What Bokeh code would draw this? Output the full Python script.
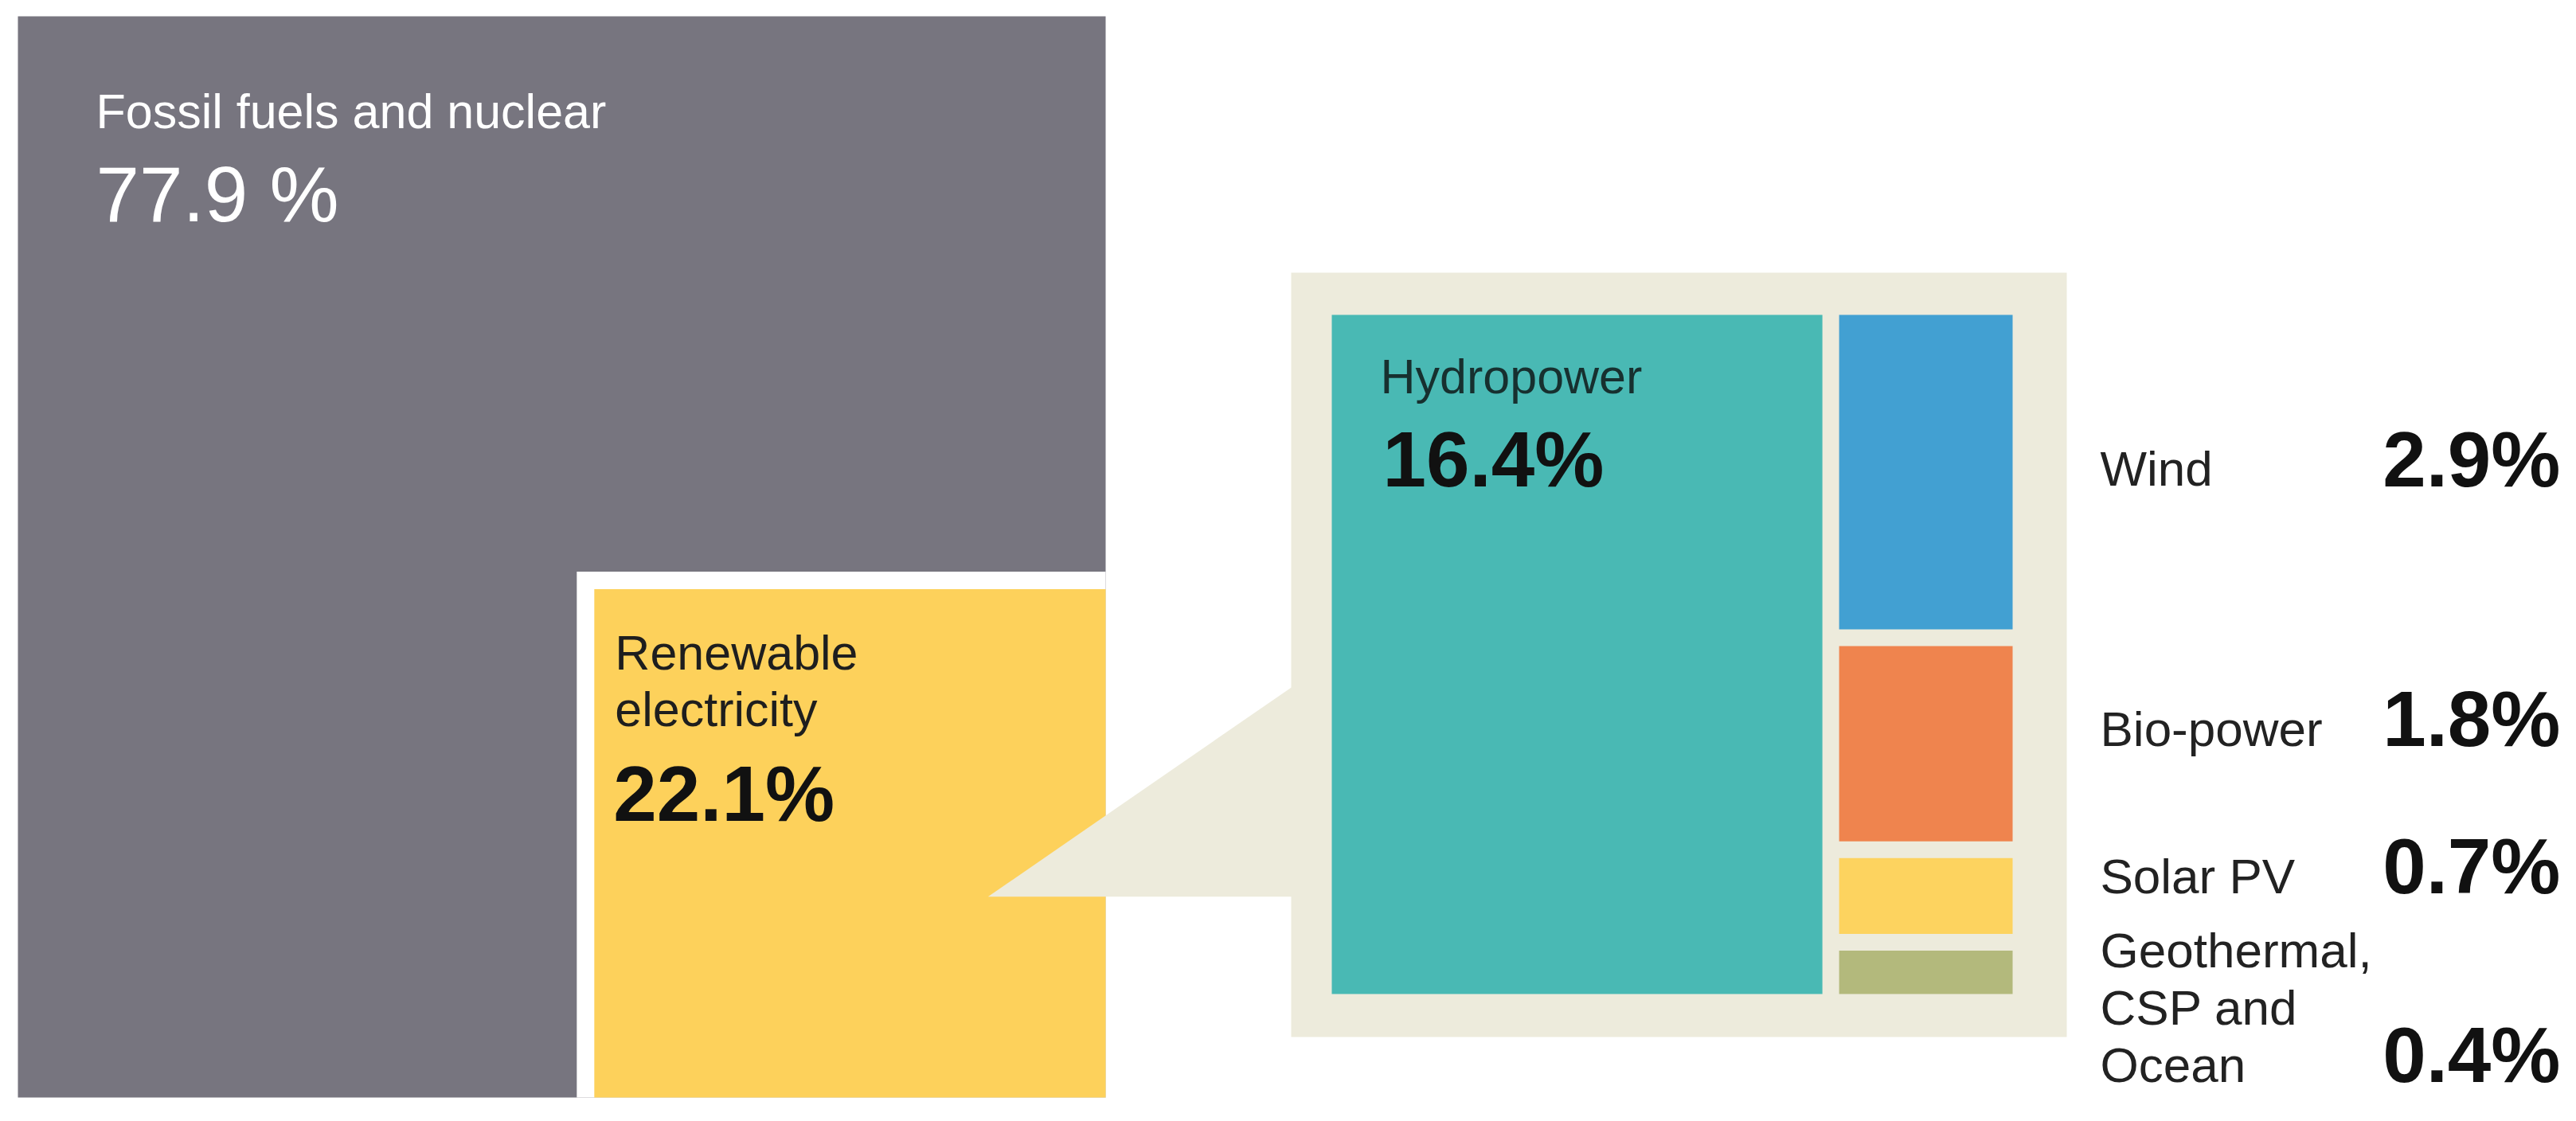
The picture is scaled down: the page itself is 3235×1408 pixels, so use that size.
import math
from bokeh.plotting import figure
from bokeh.models import Range1d, ColumnDataSource
from bokeh.core.properties import value
from bokeh.embed import file_html
from bokeh.resources import INLINE

# ---------------- data ----------------
top_categories = ["Fossil fuels and nuclear", "Renewable electricity"]
top_label_lines = [["Fossil fuels and nuclear"], ["Renewable", "electricity"]]
top_shares = [77.9, 22.1]

renew_categories = ["Hydropower", "Wind", "Bio-power", "Solar PV",
                    "Geothermal, CSP and Ocean"]
renew_label_lines = [["Hydropower"], ["Wind"], ["Bio-power"], ["Solar PV"],
                     ["Geothermal,", "CSP and", "Ocean"]]
renew_shares = [16.4, 2.9, 1.8, 0.7, 0.4]

# ---------------- styles ----------------
GRAY = "#77757f"
YELLOW = "#fdd15b"
BEIGE = "#edebdc"
renew_colors = ["#49b9b4", "#42a0d2", "#ef844e", "#fdd35f", "#b3b97c"]
FONT = value("Liberation Sans")
SIDE_LABEL_DY = [17, 2, -4, -7]   # fine placement of side labels vs. bar centres

# ---------------- figure ----------------
W, H = 3219, 1392
p = figure(width=W, height=H, x_range=Range1d(0, W), y_range=Range1d(H, 0),
           output_backend="svg", toolbar_location=None, min_border=0)
p.axis.visible = False
p.grid.visible = False
p.outline_line_color = None
p.background_fill_color = "white"
p.border_fill_color = "white"

# ---------------- main square layout (from shares) ----------------
OX, OY, OW, OH = 22, 20, 1366, 1358
GAP = 22
total = sum(top_shares)
ren_frac = top_shares[1] / total
rw = OW * math.sqrt(ren_frac)
rh = OH * math.sqrt(ren_frac)
ren_l, ren_r = OX + OW - rw, OX + OW
ren_t, ren_b = OY + OH - rh, OY + OH

main = ColumnDataSource(dict(
    left=[OX, ren_l - GAP, ren_l],
    right=[OX + OW, ren_r, ren_r],
    top=[OY, ren_t - GAP, ren_t],
    bottom=[OY + OH, ren_b, ren_b],
    color=[GRAY, "white", YELLOW],
))
p.quad(left="left", right="right", top="top", bottom="bottom", source=main,
       fill_color="color", line_color=None)

# ---------------- inset (renewable breakdown) ----------------
BX, BY, BR, BB = 1621, 342, 2595, 1302
IX, IY, IW, IH = 1672, 395, 855, 853
G2 = 21

# callout wedge from renewable square to inset
tip_x = ren_l + 0.77 * rw
tip_y = ren_t + 0.605 * rh
top_y = tip_y - 0.694 * (BX - tip_x)
p.patch([tip_x, BX + 2, BX + 2], [tip_y, top_y, tip_y], fill_color=BEIGE, line_color=None)
p.quad(left=[BX], right=[BR], top=[BY], bottom=[BB], fill_color=BEIGE, line_color=None)

ren_total = sum(renew_shares)
hw = (IW - G2) * renew_shares[0] / ren_total
col_l = IX + hw + G2
col_r = IX + IW
small = renew_shares[1:]
avail = IH - G2 * (len(small) - 1)
lefts, rights, tops, bottoms = [IX], [IX + hw], [IY], [IY + IH]
y = IY
for v in small:
    h = avail * v / sum(small)
    lefts.append(col_l); rights.append(col_r); tops.append(y); bottoms.append(y + h)
    y += h + G2
inset = ColumnDataSource(dict(left=lefts, right=rights, top=tops, bottom=bottoms,
                              color=renew_colors))
p.quad(left="left", right="right", top="top", bottom="bottom", source=inset,
       fill_color="color", line_color=None)

# ---------------- text ----------------
BASE_K = 0.34  # baseline correction (fraction of font size)

def txt(x, y, s, size, color, bold=False, align="left"):
    p.text(x=[x], y=[y - BASE_K * size], text=[s], text_font=FONT,
           text_font_size=value(f"{size}px"),
           text_color=color, text_align=align, text_baseline="alphabetic",
           text_font_style="bold" if bold else "normal")

# fossil
txt(OX + 98, OY + 140, top_label_lines[0][0], 61, "white")
txt(OX + 98, OY + 257, f"{top_shares[0]:.1f} %", 98, "white")

# renewable
for i, line in enumerate(top_label_lines[1]):
    txt(ren_l + 26, ren_t + 101 + i * 71, line, 61, "#1e1e1e")
txt(ren_l + 24, ren_t + 290, f"{top_shares[1]:.1f}%", 98, "#111111", bold=True)

# hydropower
txt(IX + 61, IY + 98, renew_label_lines[0][0], 61, "#17302f")
txt(IX + 64, IY + 215, f"{renew_shares[0]:.1f}%", 98, "#111111", bold=True)

# side labels
LX = 2637
VX = 3215
for i in range(1, len(renew_shares)):
    cy = (tops[i] + bottoms[i]) / 2
    base = cy + SIDE_LABEL_DY[i - 1]
    lines = renew_label_lines[i]
    for j, line in enumerate(lines):
        txt(LX, base + j * 72, line, 62, "#222222")
    txt(VX, base + (len(lines) - 1) * 72, f"{renew_shares[i]:.1f}%", 98,
        "#111111", bold=True, align="right")

open("out.html", "w").write(file_html(p, INLINE))
